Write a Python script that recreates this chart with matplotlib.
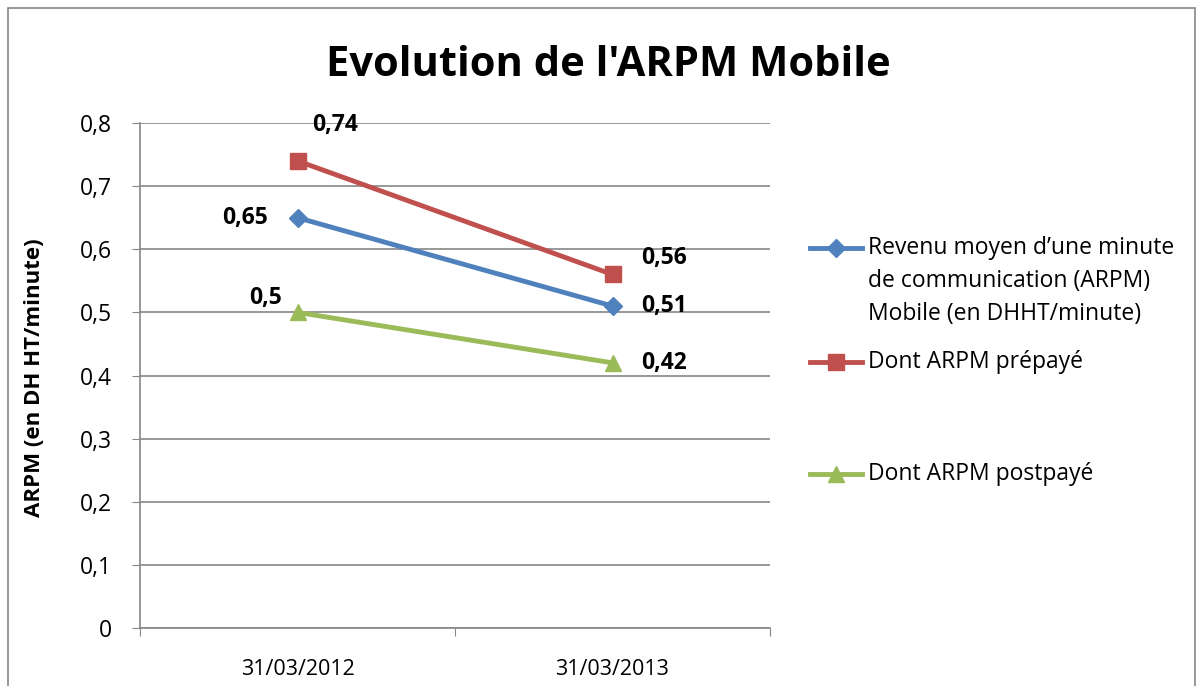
import matplotlib
matplotlib.use("Agg")
import matplotlib.pyplot as plt
from matplotlib.lines import Line2D
from matplotlib.patches import Rectangle

plt.rcParams['font.family'] = ['Open Sans', 'DejaVu Sans']

categories = ["31/03/2012", "31/03/2013"]
series_names = [
    "Revenu moyen d\u2019une minute\nde communication (ARPM)\nMobile (en DHHT/minute)",
    "Dont ARPM prépayé",
    "Dont ARPM postpayé",
]
arpm_total = [0.65, 0.51]
arpm_prepaid = [0.74, 0.56]
arpm_postpaid = [0.50, 0.42]
yticks = [0, 0.1, 0.2, 0.3, 0.4, 0.5, 0.6, 0.7, 0.8]

colors = ["#4F81BD", "#C0504D", "#9BBB59"]
markers = ["D", "s", "^"]
msizes = [9, 12, 12]

W, H = 1203, 686
fig = plt.figure(figsize=(W / 100, H / 100), dpi=100)
fig.patches.append(Rectangle((8 / W, -0.01), (1195 - 8) / W, 1 - 8 / H + 0.01,
                             transform=fig.transFigure, fill=False,
                             edgecolor="#868686", linewidth=1.2))

ax = fig.add_axes([140 / W, (H - 628) / H, (770 - 140) / W, (628 - 123) / H])
x = list(range(len(categories)))
all_series = [arpm_total, arpm_prepaid, arpm_postpaid]
for vals, c, m, ms in zip(all_series, colors, markers, msizes):
    ax.plot(x, vals, color=c, linewidth=3.5, marker=m, markersize=ms, zorder=3)

ax.set_xlim(-0.5, 1.5)
ax.set_ylim(0, 0.8)
ax.set_yticks(yticks)
ax.set_yticklabels([("%g" % v).replace(".", ",") for v in yticks], fontsize=16.5)
ax.set_xticks([-0.5, 0.5, 1.5])
ax.set_xticklabels([])
ax.set_xticks(x, minor=True)
ax.set_xticklabels(categories, minor=True, fontsize=15.5)
ax.tick_params(axis="x", which="minor", length=0, pad=22)
ax.tick_params(axis="x", which="major", length=6, color="#868686")
ax.tick_params(axis="y", length=6, color="#868686", pad=14)
ax.grid(axis="y", color="#868686", linewidth=1.2)
ax.set_axisbelow(True)
for s in ["top", "right"]:
    ax.spines[s].set_visible(False)
for s in ["left", "bottom"]:
    ax.spines[s].set_color("#868686")
    ax.spines[s].set_linewidth(1.2)

def fmt(v):
    return ("%g" % v).replace(".", ",")

lab_kw = dict(fontsize=16.5, fontweight="bold", textcoords="offset points")
ax.annotate(fmt(arpm_prepaid[0]), (x[0], arpm_prepaid[0]), xytext=(27, 26), ha="center", va="center", **lab_kw)
ax.annotate(fmt(arpm_total[0]), (x[0], arpm_total[0]), xytext=(-38, 0), ha="center", va="center", **lab_kw)
ax.annotate(fmt(arpm_postpaid[0]), (x[0], arpm_postpaid[0]), xytext=(-23, 10), ha="center", va="center", **lab_kw)
ax.annotate(fmt(arpm_prepaid[1]), (x[1], arpm_prepaid[1]), xytext=(37, 12), ha="center", va="center", **lab_kw)
ax.annotate(fmt(arpm_total[1]), (x[1], arpm_total[1]), xytext=(37, 0), ha="center", va="center", **lab_kw)
ax.annotate(fmt(arpm_postpaid[1]), (x[1], arpm_postpaid[1]), xytext=(37, 0), ha="center", va="center", **lab_kw)

fig.text(35 / W, 1 - 378 / H, "ARPM (en DH HT/minute)", fontsize=16, fontweight="bold",
         rotation=90, ha="center", va="center")

fig.text(608 / W, 1 - 66 / H, "Evolution de l'ARPM Mobile", fontsize=30,
         fontweight="bold", ha="center", va="center")

# legend
leg_y = [248, 362, 474]
for name, c, m, ms, yy in zip(series_names, colors, markers, msizes, leg_y):
    fy = 1 - yy / H
    fig.lines.append(Line2D([810 / W, 862 / W], [fy, fy], transform=fig.transFigure,
                            color=c, linewidth=3.5))
    fig.lines.append(Line2D([836 / W], [fy], transform=fig.transFigure,
                            color=c, marker=m, markersize=ms, linestyle="none"))
    fig.text(868 / W, fy + 12 / H, name, fontsize=16.5, ha="left", va="top",
             linespacing=1.5)

fig.savefig("out.png", dpi=100)
